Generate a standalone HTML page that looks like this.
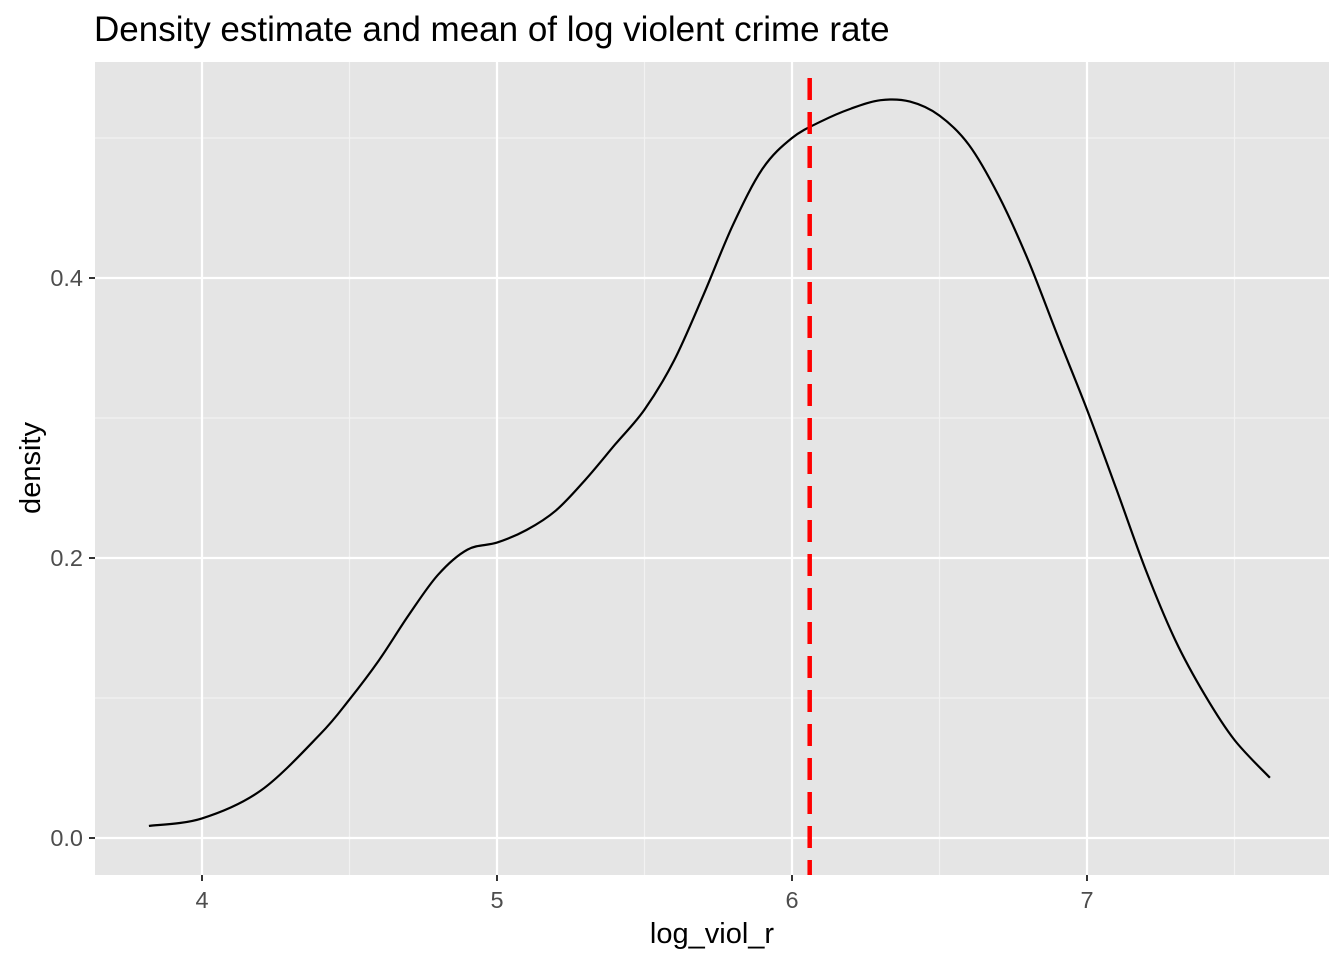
<!DOCTYPE html>
<html><head><meta charset="utf-8">
<style>
body{margin:0;background:#fff;}
svg{display:block;font-family:"Liberation Sans",Arial,sans-serif;}
</style></head>
<body>
<svg id="chart" width="1344" height="960">
<text x="94" y="41" font-size="35" fill="#000">Density estimate and mean of log violent crime rate</text>
<rect x="95" y="62" width="1234" height="813" fill="#e5e5e5"/>
<g id="grid"></g>
<g id="marks"></g>
<g id="axes"></g>
<text x="712" y="943" font-size="29" text-anchor="middle" fill="#000">log_viol_r</text>
<text transform="translate(40,468) rotate(-90)" font-size="29" text-anchor="middle" fill="#000">density</text>
</svg>
<script>
const xs=[3.82,4.0,4.2,4.4,4.5,4.6,4.7,4.8,4.9,5.0,5.1,5.2,5.3,5.4,5.5,5.6,5.7,5.8,5.9,6.0,6.1,6.2,6.3,6.4,6.5,6.6,6.7,6.8,6.9,7.0,7.1,7.2,7.3,7.4,7.5,7.62];
const dens=[0.0086,0.014,0.034,0.074,0.099,0.127,0.159,0.188,0.206,0.211,0.22,0.234,0.256,0.281,0.306,0.341,0.388,0.438,0.478,0.500,0.512,0.521,0.527,0.526,0.516,0.495,0.459,0.413,0.359,0.306,0.249,0.191,0.141,0.102,0.07,0.043];
const meanVal=[6.06];
const xTicks=[4,5,6,7];
const xMinor=[4.5,5.5,6.5,7.5];
const yTicks=[0,0.2,0.4];
const yTickLabels=["0.0","0.2","0.4"];
const yMinor=[0.1,0.3,0.5];

const X=v=>202+(v-4)*295;
const Y=v=>838-v*1400;
const NS="http://www.w3.org/2000/svg";
function mk(tag,attrs,parent){const e=document.createElementNS(NS,tag);for(const k in attrs)e.setAttribute(k,attrs[k]);parent.appendChild(e);return e;}
const grid=document.getElementById('grid'),marks=document.getElementById('marks'),axes=document.getElementById('axes');
xMinor.forEach(v=>{const l=mk('line',{x1:X(v),x2:X(v),y1:62,y2:875,stroke:'#f2f2f2','stroke-width':1.2},grid);

});
yMinor.forEach(v=>{const l=mk('line',{x1:95,x2:1329,y1:Y(v),y2:Y(v),stroke:'#f2f2f2','stroke-width':1.2},grid);

});
xTicks.forEach(v=>{const l=mk('line',{x1:X(v),x2:X(v),y1:62,y2:875,stroke:'#fff','stroke-width':2.2},grid);


const t=mk('line',{x1:X(v),x2:X(v),y1:875,y2:881,stroke:'#333','stroke-width':2},axes);


const tx=mk('text',{x:X(v),y:908,'font-size':23.5,'text-anchor':'middle',fill:'#4d4d4d'},axes);tx.textContent=v;

});
yTicks.forEach((v,i)=>{const l=mk('line',{x1:95,x2:1329,y1:Y(v),y2:Y(v),stroke:'#fff','stroke-width':2.2},grid);


const t=mk('line',{x1:89,x2:95,y1:Y(v),y2:Y(v),stroke:'#333','stroke-width':2},axes);


const tx=mk('text',{x:83,y:Y(v)+8,'font-size':23.5,'text-anchor':'end',fill:'#4d4d4d'},axes);tx.textContent=yTickLabels[i];

});
const P=xs.map((v,i)=>[X(v),Y(dens[i])]);
let d=`M${P[0][0]},${P[0][1]}`;
for(let i=0;i<P.length-1;i++){const p0=P[Math.max(i-1,0)],p1=P[i],p2=P[i+1],p3=P[Math.min(i+2,P.length-1)];
d+=` C${p1[0]+(p2[0]-p0[0])/6},${p1[1]+(p2[1]-p0[1])/6} ${p2[0]-(p3[0]-p1[0])/6},${p2[1]-(p3[1]-p1[1])/6} ${p2[0]},${p2[1]}`;}
const path=mk('path',{d:d,fill:'none',stroke:'#000','stroke-width':2.2},marks);


meanVal.forEach(m=>{const l=mk('line',{x1:X(m),x2:X(m),y1:78,y2:875,stroke:'#ff0000','stroke-width':4.5,'stroke-dasharray':'22 12'},marks);

});
</script>
</body></html>
